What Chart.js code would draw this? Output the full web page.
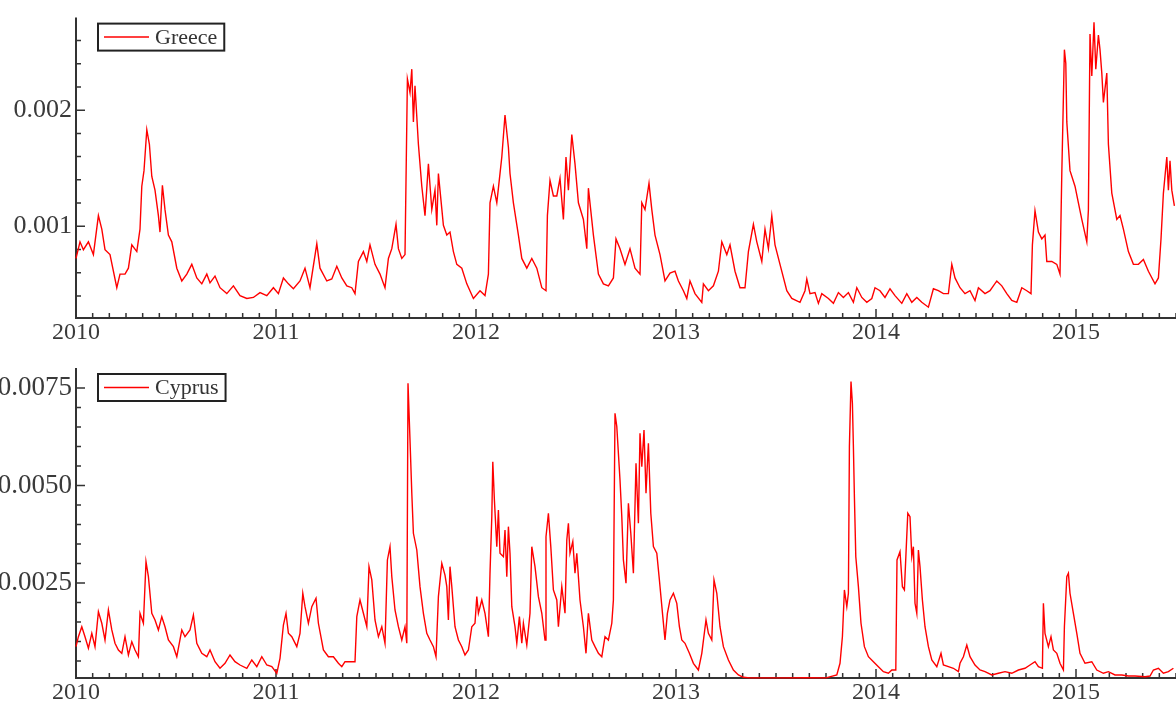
<!DOCTYPE html>
<html>
<head>
<meta charset="utf-8">
<script src="https://cdn.jsdelivr.net/npm/chart.js@4/dist/chart.umd.min.js"></script>
<style>
  body { margin: 0; background: #fff; }
  canvas { position: absolute; left: 0; }
</style>
</head>
<body>
<canvas id="greece" width="1176" height="345" style="top:0"></canvas>
<canvas id="cyprus" width="1176" height="362" style="top:345px"></canvas>
<script>
// year ticks shared by both panels
var yearTicks = [2010, 2011, 2012, 2013, 2014, 2015];

// Greece (top panel)
var greeceYears = [
  2010.000, 2010.020, 2010.037, 2010.062, 2010.087, 2010.112, 2010.129, 2010.145, 2010.170, 2010.204,
  2010.220, 2010.245, 2010.262, 2010.279, 2010.304, 2010.320, 2010.329, 2010.340, 2010.354, 2010.367,
  2010.379, 2010.395, 2010.412, 2010.420, 2010.432, 2010.445, 2010.462, 2010.479, 2010.504, 2010.529,
  2010.554, 2010.579, 2010.604, 2010.629, 2010.654, 2010.670, 2010.695, 2010.720, 2010.754, 2010.787,
  2010.820, 2010.854, 2010.887, 2010.920, 2010.954, 2010.987, 2011.012, 2011.037, 2011.062, 2011.087,
  2011.120, 2011.145, 2011.170, 2011.204, 2011.220, 2011.254, 2011.279, 2011.304, 2011.329, 2011.354,
  2011.379, 2011.395, 2011.412, 2011.437, 2011.454, 2011.470, 2011.495, 2011.520, 2011.545, 2011.562,
  2011.579, 2011.600, 2011.612, 2011.629, 2011.645, 2011.657, 2011.670, 2011.679, 2011.687, 2011.695,
  2011.712, 2011.729, 2011.745, 2011.762, 2011.779, 2011.795, 2011.804, 2011.812, 2011.837, 2011.854,
  2011.870, 2011.887, 2011.904, 2011.929, 2011.954, 2011.987, 2012.020, 2012.045, 2012.062, 2012.070,
  2012.087, 2012.104, 2012.120, 2012.129, 2012.145, 2012.162, 2012.170, 2012.187, 2012.212, 2012.229,
  2012.254, 2012.279, 2012.304, 2012.329, 2012.350, 2012.357, 2012.370, 2012.387, 2012.404, 2012.420,
  2012.437, 2012.450, 2012.462, 2012.479, 2012.495, 2012.512, 2012.537, 2012.554, 2012.562, 2012.587,
  2012.612, 2012.637, 2012.662, 2012.687, 2012.700, 2012.720, 2012.745, 2012.770, 2012.795, 2012.820,
  2012.829, 2012.845, 2012.865, 2012.879, 2012.895, 2012.920, 2012.945, 2012.970, 2012.995, 2013.012,
  2013.037, 2013.054, 2013.070, 2013.095, 2013.129, 2013.137, 2013.162, 2013.187, 2013.212, 2013.229,
  2013.254, 2013.270, 2013.295, 2013.320, 2013.345, 2013.362, 2013.387, 2013.404, 2013.429, 2013.445,
  2013.462, 2013.479, 2013.495, 2013.520, 2013.554, 2013.579, 2013.620, 2013.645, 2013.654, 2013.670,
  2013.695, 2013.712, 2013.729, 2013.762, 2013.787, 2013.812, 2013.837, 2013.862, 2013.887, 2013.904,
  2013.929, 2013.954, 2013.979, 2013.995, 2014.020, 2014.045, 2014.070, 2014.095, 2014.129, 2014.154,
  2014.179, 2014.204, 2014.229, 2014.262, 2014.287, 2014.312, 2014.337, 2014.362, 2014.379, 2014.395,
  2014.420, 2014.445, 2014.470, 2014.495, 2014.512, 2014.545, 2014.570, 2014.604, 2014.629, 2014.654,
  2014.679, 2014.704, 2014.729, 2014.754, 2014.775, 2014.782, 2014.795, 2014.812, 2014.829, 2014.845,
  2014.854, 2014.879, 2014.904, 2014.920, 2014.929, 2014.942, 2014.949, 2014.954, 2014.970, 2014.995,
  2015.012, 2015.029, 2015.054, 2015.062, 2015.070, 2015.079, 2015.090, 2015.099, 2015.112, 2015.120,
  2015.129, 2015.137, 2015.154, 2015.162, 2015.179, 2015.204, 2015.220, 2015.237, 2015.262, 2015.287,
  2015.312, 2015.337, 2015.362, 2015.395, 2015.412, 2015.425, 2015.437, 2015.454, 2015.462, 2015.470,
  2015.479, 2015.492
];
var greeceValues = [
  0.000723, 0.000866, 0.000798, 0.000866, 0.000756, 0.001092, 0.000975, 0.000798, 0.000756, 0.000471,
  0.000588, 0.000588, 0.000639, 0.000840, 0.000782, 0.000975, 0.001345, 0.001479, 0.001832, 0.001706,
  0.001429, 0.001311, 0.001092, 0.000950, 0.001353, 0.001143, 0.000924, 0.000866, 0.000639, 0.000529,
  0.000588, 0.000672, 0.000555, 0.000504, 0.000588, 0.000513, 0.000571, 0.000471, 0.000420, 0.000487,
  0.000403, 0.000378, 0.000387, 0.000429, 0.000403, 0.000471, 0.000420, 0.000555, 0.000504, 0.000462,
  0.000529, 0.000639, 0.000471, 0.000849, 0.000639, 0.000529, 0.000546, 0.000655, 0.000555, 0.000487,
  0.000471, 0.000420, 0.000697, 0.000782, 0.000697, 0.000840, 0.000672, 0.000588, 0.000471, 0.000723,
  0.000807, 0.001017, 0.000807, 0.000723, 0.000756, 0.002269, 0.002151, 0.002353, 0.001899, 0.002210,
  0.001706, 0.001345, 0.001092, 0.001538, 0.001143, 0.001311, 0.001008, 0.001454, 0.001008, 0.000924,
  0.000950, 0.000782, 0.000672, 0.000639, 0.000504, 0.000378, 0.000445, 0.000403, 0.000588, 0.001202,
  0.001345, 0.001202, 0.001454, 0.001597, 0.001958, 0.001681, 0.001454, 0.001202, 0.000924, 0.000723,
  0.000639, 0.000723, 0.000639, 0.000471, 0.000445, 0.001092, 0.001395, 0.001261, 0.001261, 0.001412,
  0.001059, 0.001597, 0.001311, 0.001790, 0.001538, 0.001202, 0.001059, 0.000807, 0.001328, 0.000924,
  0.000588, 0.000504, 0.000487, 0.000555, 0.000891, 0.000807, 0.000672, 0.000807, 0.000639, 0.000588,
  0.001202, 0.001143, 0.001370, 0.001143, 0.000924, 0.000756, 0.000529, 0.000597, 0.000613, 0.000529,
  0.000445, 0.000378, 0.000529, 0.000420, 0.000345, 0.000504, 0.000445, 0.000487, 0.000613, 0.000866,
  0.000756, 0.000840, 0.000613, 0.000471, 0.000471, 0.000782, 0.001017, 0.000866, 0.000697, 0.000975,
  0.000807, 0.001092, 0.000840, 0.000672, 0.000445, 0.000378, 0.000345, 0.000445, 0.000546, 0.000420,
  0.000429, 0.000336, 0.000420, 0.000378, 0.000336, 0.000429, 0.000387, 0.000429, 0.000345, 0.000471,
  0.000387, 0.000345, 0.000378, 0.000471, 0.000445, 0.000387, 0.000462, 0.000403, 0.000336, 0.000420,
  0.000345, 0.000387, 0.000345, 0.000303, 0.000462, 0.000445, 0.000420, 0.000420, 0.000672, 0.000555,
  0.000471, 0.000420, 0.000445, 0.000361, 0.000471, 0.000420, 0.000445, 0.000529, 0.000487, 0.000420,
  0.000361, 0.000345, 0.000471, 0.000445, 0.000420, 0.000840, 0.001134, 0.000950, 0.000891, 0.000924,
  0.000697, 0.000697, 0.000672, 0.000588, 0.001454, 0.002521, 0.002403, 0.001899, 0.001479, 0.001345,
  0.001202, 0.001059, 0.000866, 0.001143, 0.002655, 0.002294, 0.002756, 0.002353, 0.002647, 0.002521,
  0.002319, 0.002067, 0.002319, 0.001706, 0.001286, 0.001059, 0.001092, 0.000975, 0.000782, 0.000672,
  0.000672, 0.000714, 0.000613, 0.000504, 0.000555, 0.000891, 0.001286, 0.001597, 0.001311, 0.001563,
  0.001311, 0.001176
];

// Cyprus (bottom panel)
var cyprusYears = [
  2010.000, 2010.012, 2010.029, 2010.045, 2010.062, 2010.079, 2010.095, 2010.112, 2010.129, 2010.145,
  2010.162, 2010.179, 2010.195, 2010.212, 2010.229, 2010.245, 2010.262, 2010.279, 2010.295, 2010.312,
  2010.320, 2010.337, 2010.350, 2010.362, 2010.379, 2010.395, 2010.412, 2010.429, 2010.445, 2010.462,
  2010.487, 2010.504, 2010.529, 2010.545, 2010.570, 2010.587, 2010.604, 2010.629, 2010.654, 2010.670,
  2010.695, 2010.720, 2010.745, 2010.770, 2010.795, 2010.820, 2010.854, 2010.879, 2010.904, 2010.929,
  2010.954, 2010.979, 2011.004, 2011.020, 2011.037, 2011.050, 2011.062, 2011.079, 2011.104, 2011.120,
  2011.134, 2011.145, 2011.162, 2011.179, 2011.200, 2011.212, 2011.237, 2011.262, 2011.287, 2011.312,
  2011.329, 2011.345, 2011.370, 2011.395, 2011.404, 2011.420, 2011.437, 2011.454, 2011.465, 2011.479,
  2011.495, 2011.512, 2011.529, 2011.545, 2011.557, 2011.570, 2011.579, 2011.595, 2011.612, 2011.629,
  2011.645, 2011.654, 2011.660, 2011.670, 2011.679, 2011.687, 2011.704, 2011.720, 2011.737, 2011.754,
  2011.770, 2011.787, 2011.800, 2011.812, 2011.829, 2011.845, 2011.854, 2011.862, 2011.870, 2011.879,
  2011.887, 2011.895, 2011.912, 2011.929, 2011.945, 2011.962, 2011.979, 2011.995, 2012.004, 2012.012,
  2012.029, 2012.045, 2012.062, 2012.070, 2012.079, 2012.084, 2012.092, 2012.104, 2012.112, 2012.120,
  2012.137, 2012.145, 2012.154, 2012.162, 2012.170, 2012.179, 2012.195, 2012.204, 2012.217, 2012.229,
  2012.237, 2012.254, 2012.270, 2012.279, 2012.295, 2012.312, 2012.329, 2012.345, 2012.350, 2012.362,
  2012.374, 2012.387, 2012.404, 2012.412, 2012.429, 2012.445, 2012.454, 2012.462, 2012.470, 2012.484,
  2012.495, 2012.504, 2012.520, 2012.537, 2012.550, 2012.562, 2012.579, 2012.595, 2012.612, 2012.629,
  2012.645, 2012.662, 2012.679, 2012.687, 2012.695, 2012.704, 2012.720, 2012.729, 2012.737, 2012.750,
  2012.762, 2012.774, 2012.787, 2012.800, 2012.812, 2012.820, 2012.829, 2012.840, 2012.850, 2012.862,
  2012.874, 2012.887, 2012.904, 2012.917, 2012.934, 2012.945, 2012.957, 2012.970, 2012.987, 2013.004,
  2013.017, 2013.029, 2013.045, 2013.067, 2013.087, 2013.112, 2013.129, 2013.150, 2013.162, 2013.179,
  2013.190, 2013.204, 2013.220, 2013.237, 2013.262, 2013.287, 2013.312, 2013.337, 2013.370, 2013.450,
  2013.550, 2013.650, 2013.750, 2013.804, 2013.820, 2013.832, 2013.842, 2013.854, 2013.862, 2013.867,
  2013.875, 2013.882, 2013.887, 2013.892, 2013.899, 2013.912, 2013.925, 2013.942, 2013.962, 2013.987,
  2014.012, 2014.037, 2014.062, 2014.079, 2014.099, 2014.105, 2014.120, 2014.132, 2014.142, 2014.150,
  2014.159, 2014.170, 2014.179, 2014.187, 2014.195, 2014.204, 2014.212, 2014.220, 2014.232, 2014.245,
  2014.262, 2014.279, 2014.304, 2014.325, 2014.337, 2014.362, 2014.387, 2014.412, 2014.420, 2014.437,
  2014.454, 2014.470, 2014.495, 2014.520, 2014.545, 2014.579, 2014.612, 2014.645, 2014.679, 2014.712,
  2014.745, 2014.770, 2014.795, 2014.812, 2014.832, 2014.837, 2014.845, 2014.862, 2014.875, 2014.887,
  2014.904, 2014.920, 2014.937, 2014.942, 2014.954, 2014.962, 2014.970, 2014.987, 2015.004, 2015.020,
  2015.045, 2015.079, 2015.104, 2015.137, 2015.162, 2015.195, 2015.229, 2015.262, 2015.295, 2015.345,
  2015.370, 2015.387, 2015.412, 2015.437, 2015.462, 2015.487
];
var cyprusValues = [
  0.000867, 0.001123, 0.001379, 0.001123, 0.000826, 0.001210, 0.000867, 0.001764, 0.001467, 0.001038,
  0.001808, 0.001295, 0.000954, 0.000782, 0.000697, 0.001123, 0.000654, 0.000995, 0.000782, 0.000610,
  0.001723, 0.001467, 0.003046, 0.002662, 0.001723, 0.001551, 0.001295, 0.001636, 0.001379, 0.001038,
  0.000867, 0.000610, 0.001295, 0.001123, 0.001295, 0.001679, 0.000954, 0.000697, 0.000610, 0.000782,
  0.000482, 0.000313, 0.000441, 0.000654, 0.000482, 0.000397, 0.000313, 0.000526, 0.000354, 0.000610,
  0.000397, 0.000354, 0.000185, 0.000569, 0.001423, 0.001723, 0.001210, 0.001123, 0.000867, 0.001210,
  0.002236, 0.001892, 0.001467, 0.001892, 0.002108, 0.001467, 0.000782, 0.000610, 0.000610, 0.000441,
  0.000354, 0.000482, 0.000482, 0.000482, 0.001636, 0.002064, 0.001723, 0.001379, 0.002918, 0.002577,
  0.001551, 0.001123, 0.001379, 0.000954, 0.003090, 0.003431, 0.002662, 0.001808, 0.001379, 0.001038,
  0.001379, 0.000954, 0.007621, 0.006167, 0.004800, 0.003774, 0.003346, 0.002405, 0.001723, 0.001210,
  0.001038, 0.000867, 0.000610, 0.002149, 0.003005, 0.002700, 0.002405, 0.001551, 0.002918, 0.002405,
  0.001892, 0.001379, 0.001038, 0.000867, 0.000654, 0.000782, 0.001379, 0.001467, 0.002149, 0.001723,
  0.002064, 0.001723, 0.001123, 0.002749, 0.004200, 0.005610, 0.004628, 0.003431, 0.004372, 0.003262,
  0.003174, 0.003859, 0.002662, 0.003944, 0.003262, 0.001892, 0.001379, 0.000954, 0.001636, 0.000954,
  0.001467, 0.000910, 0.001723, 0.003431, 0.002918, 0.002149, 0.001723, 0.001038, 0.003687, 0.004287,
  0.003431, 0.002321, 0.002064, 0.001379, 0.002405, 0.001723, 0.003603, 0.004031, 0.003262, 0.003559,
  0.002749, 0.003262, 0.002064, 0.001379, 0.000697, 0.001723, 0.001038, 0.000867, 0.000697, 0.000610,
  0.001123, 0.001038, 0.001467, 0.002064, 0.006851, 0.006508, 0.005141, 0.004200, 0.003090, 0.002492,
  0.004544, 0.003774, 0.002749, 0.005569, 0.004031, 0.006338, 0.005482, 0.006423, 0.004800, 0.006082,
  0.004287, 0.003431, 0.003262, 0.002577, 0.001636, 0.001038, 0.001723, 0.002064, 0.002236, 0.001979,
  0.001379, 0.001038, 0.000954, 0.000697, 0.000441, 0.000269, 0.000697, 0.001551, 0.001210, 0.001038,
  0.002577, 0.002236, 0.001379, 0.000867, 0.000526, 0.000269, 0.000141, 0.000082, 0.000066, 0.000068,
  0.000066, 0.000070, 0.000067, 0.000141, 0.000441, 0.001123, 0.002321, 0.001892, 0.002236, 0.005995,
  0.007662, 0.007108, 0.005995, 0.004713, 0.003174, 0.002405, 0.001467, 0.000867, 0.000610, 0.000482,
  0.000354, 0.000226, 0.000185, 0.000269, 0.000269, 0.003090, 0.003303, 0.002405, 0.002321, 0.003262,
  0.004287, 0.004200, 0.003174, 0.003431, 0.001979, 0.001723, 0.003346, 0.002918, 0.002064, 0.001379,
  0.000867, 0.000526, 0.000354, 0.000697, 0.000397, 0.000354, 0.000313, 0.000226, 0.000441, 0.000610,
  0.000910, 0.000610, 0.000397, 0.000269, 0.000226, 0.000141, 0.000185, 0.000226, 0.000185, 0.000269,
  0.000313, 0.000397, 0.000482, 0.000354, 0.000313, 0.001979, 0.001210, 0.000867, 0.001123, 0.000782,
  0.000697, 0.000441, 0.000269, 0.001379, 0.002662, 0.002749, 0.002236, 0.001723, 0.001210, 0.000697,
  0.000441, 0.000482, 0.000269, 0.000185, 0.000226, 0.000141, 0.000141, 0.000115, 0.000115, 0.000097,
  0.000115, 0.000269, 0.000313, 0.000185, 0.000226, 0.000313
];

var serif = "'Liberation Serif', 'Times New Roman', serif";
var axisColor = '#333333';
var labelColor = '#3a3a3a';

// Mathematica-like frame: left and bottom axis lines with inward ticks
var frameAxes = {
  id: 'frameAxes',
  beforeDatasetsDraw: function(chart, args, opts) {
    var ctx = chart.ctx, a = chart.chartArea;
    var xs = chart.scales.x, ys = chart.scales.y;
    ctx.save();
    ctx.strokeStyle = axisColor;
    ctx.lineWidth = 2;
    ctx.beginPath();
    ctx.moveTo(a.left, a.top - 2);
    ctx.lineTo(a.left, a.bottom);
    ctx.lineTo(a.right, a.bottom);
    ctx.stroke();

    ctx.lineWidth = 1.5;
    ctx.beginPath();
    // monthly ticks on x, longer at each year
    for (var i = 0; i <= 66; i++) {
      var v = 2010 + i / 12;
      if (v > xs.max) break;
      var px = xs.getPixelForValue(v);
      var len = (i % 12 === 0) ? 9 : 5;
      ctx.moveTo(px, a.bottom);
      ctx.lineTo(px, a.bottom - len);
    }
    // minor ticks on y, longer at labelled values
    var n0 = Math.ceil(ys.min / opts.minorStep - 1e-6);
    var n1 = Math.floor(ys.max / opts.minorStep + 1e-6);
    for (var k = n0; k <= n1; k++) {
      var val = k * opts.minorStep;
      var py = ys.getPixelForValue(val);
      var major = Math.abs(val / opts.majorStep - Math.round(val / opts.majorStep)) < 1e-6;
      ctx.moveTo(a.left, py);
      ctx.lineTo(a.left + (major ? 9 : 5), py);
    }
    ctx.stroke();
    ctx.restore();
  }
};

// boxed legend in the upper left corner of the plot
var boxLegend = {
  id: 'boxLegend',
  afterDraw: function(chart) {
    var ctx = chart.ctx, a = chart.chartArea;
    var ds = chart.data.datasets[0];
    ctx.save();
    ctx.font = '22px ' + serif;
    var tw = ctx.measureText(ds.label).width;
    var bx = a.left + 22, by = a.top + 4, bh = 27;
    var bw = 58 + tw + 6;
    ctx.fillStyle = '#ffffff';
    ctx.fillRect(bx, by, bw, bh);
    ctx.strokeStyle = '#222222';
    ctx.lineWidth = 2;
    ctx.strokeRect(bx, by, bw, bh);
    ctx.strokeStyle = ds.borderColor;
    ctx.lineWidth = 1.5;
    ctx.beginPath();
    ctx.moveTo(bx + 6, by + bh / 2);
    ctx.lineTo(bx + 51, by + bh / 2);
    ctx.stroke();
    ctx.fillStyle = '#333333';
    ctx.textBaseline = 'middle';
    ctx.fillText(ds.label, bx + 57, by + bh / 2 + 1);
    ctx.restore();
  }
};

function makePanel(id, label, years, values, yMin, yMax, yLabels, majorStep, minorStep, digits, topPad, xHeight, ySize) {
  var points = years.map(function(t, i) { return { x: t, y: values[i] }; });
  return new Chart(document.getElementById(id).getContext('2d'), {
    type: 'line',
    data: {
      datasets: [{
        label: label,
        data: points,
        borderColor: '#ff0000',
        borderWidth: 1.4,
        pointRadius: 0,
        tension: 0,
        fill: false,
        clip: 4
      }]
    },
    options: {
      responsive: false,
      animation: false,
      devicePixelRatio: 1,
      layout: { padding: { top: topPad, right: 0, left: 0, bottom: 0 } },
      plugins: {
        legend: { display: false },
        tooltip: { enabled: false },
        frameAxes: { majorStep: majorStep, minorStep: minorStep }
      },
      scales: {
        x: {
          type: 'linear',
          min: 2010,
          max: 2015.5,
          grid: { display: false, drawTicks: false },
          border: { display: false },
          ticks: {
            font: { family: serif, size: 24 },
            color: labelColor,
            padding: 0,
            maxRotation: 0,
            autoSkip: false,
            callback: function(v) { return String(v); }
          },
          afterBuildTicks: function(s) { s.ticks = yearTicks.map(function(v) { return { value: v }; }); },
          afterFit: function(s) { s.height = xHeight; }
        },
        y: {
          type: 'linear',
          min: yMin,
          max: yMax,
          grid: { display: false, drawTicks: false },
          border: { display: false },
          ticks: {
            font: { family: serif, size: ySize },
            color: labelColor,
            padding: 4,
            callback: function(v) { return v.toFixed(digits); }
          },
          afterBuildTicks: function(s) { s.ticks = yLabels.map(function(v) { return { value: v }; }); },
          afterFit: function(s) { s.width = 76; }
        }
      }
    },
    plugins: [frameAxes, boxLegend]
  });
}

makePanel('greece', 'Greece', greeceYears, greeceValues,
  0.00021, 0.00278, [0.001, 0.002], 0.001, 0.0002, 3, 12, 27, 26);
makePanel('cyprus', 'Cyprus', cyprusYears, cyprusValues,
  0.000064, 0.00796, [0.0025, 0.005, 0.0075], 0.0025, 0.0005, 4, 25, 29, 27);
</script>
</body>
</html>
